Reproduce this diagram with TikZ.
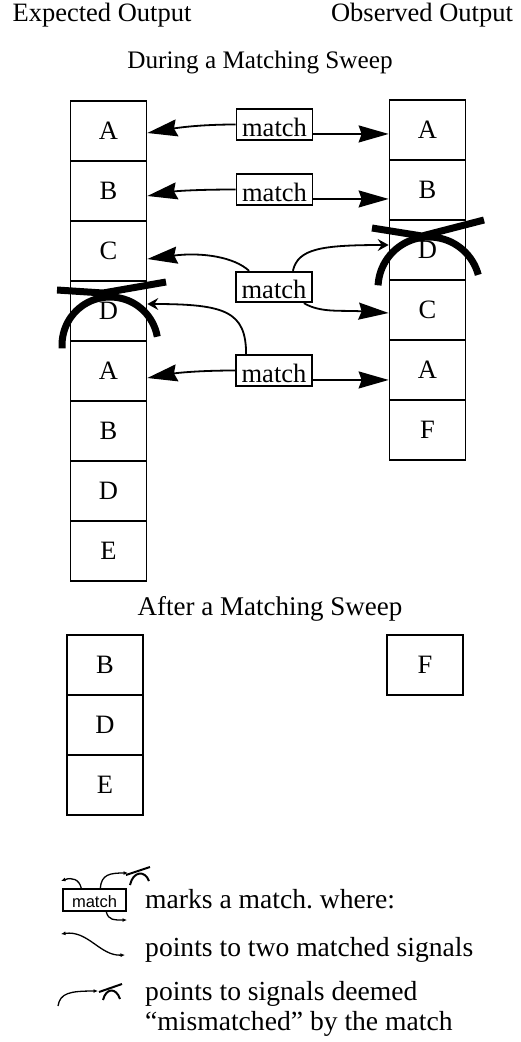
\documentclass[tikz,border=0pt]{standalone}
\usepackage{fontspec}
\setmainfont{Liberation Serif}
\newfontfamily\tagfont{Liberation Sans}
\usetikzlibrary{arrows.meta}
\frenchspacing

\begin{document}
\begin{tikzpicture}[x=1pt,y=-1pt,
  txt/.style={font=\fontsize{26.5}{31}\selectfont, inner sep=0pt},
  legendtxt/.style={font=\fontsize{27.6}{31}\selectfont, inner sep=0pt},
  cell/.style={draw, line width=1.7pt, minimum width=76pt, minimum height=60pt,
    inner sep=0pt, font=\fontsize{26.5}{31}\selectfont},
  matchbox/.style={draw, line width=1.8pt, minimum width=76pt, inner xsep=0pt,
    inner ysep=0pt, text height=27pt, text depth=3.5pt,
    font=\fontsize{26.5}{31}\selectfont},
  pair/.style={line width=1.8pt, -{Stealth[length=30pt,width=17pt,inset=3pt]}},
  miss/.style={line width=1.8pt, -{Stealth[length=11pt,width=12pt,inset=4pt]}},
  strike/.style={line width=7pt, line cap=butt},
  tinytip/.tip={Latex[length=4.5pt,width=4pt]},
  tinyline/.style={line width=1.3pt},
  ministrike/.style={line width=2pt, line cap=butt}
]
\fill[white] (0,0) rectangle (520,1042);
\useasboundingbox (0,0) rectangle (520,1042);

% headings
\node[txt, anchor=base] (hexp) at (102,21.5) {Expected Output};
\node[txt, anchor=base] (hobs) at (422,21.5) {Observed Output};
\node[txt, anchor=base, font=\fontsize{25.2}{30}\selectfont] (hdur) at (260,68) {During a Matching Sweep};
\node[txt, anchor=base, font=\fontsize{27}{31}\selectfont] (haft) at (270,615) {After a Matching Sweep};

% signal columns during the sweep
\foreach \t [count=\i] in {A,B,C,D,A,B,D,E}
  \node[cell] (L\i) at (108.5,{71+60*\i}) {\t};
\foreach \t [count=\i] in {A,B,D,C,A,F}
  \node[cell] (R\i) at (427.5,{70+60*\i}) {\t};

% signal columns after the sweep
\foreach \t [count=\i] in {B,D,E}
  \node[cell] (P\i) at (105,{605+60*\i}) {\t};
\node[cell] (Q1) at (425,665) {F};

% mismatch marks
\draw[strike] (57,290) -- (103,293) -- (166,282);
\draw[strike] plot[domain=176:350, samples=40] ({110+48*cos(\x)},{345+48*sin(\x)});
\draw[strike] (372,228) -- (422,236) -- (484,220);
\draw[strike] plot[domain=183:345, samples=40] ({429+51*cos(\x)},{288+51*sin(\x)});

% matches
\node[matchbox, fill=white] (M1) at (274.5,124.5) {match};
\node[matchbox, fill=white] (M2) at (274.5,189.5) {match};
\node[matchbox, fill=white] (M3) at (274,287) {match};
\node[matchbox, fill=white] (M4) at (274,370.5) {match};

\draw[pair] (M1.west) .. controls +(-37,0) and +(29,-5) .. ([yshift=-2pt]L1.east);
\draw[pair] (M1.mid east) -- (M1.mid east -| R1.west);
\draw[pair] (M2.west) .. controls +(-37,0) and +(29,-5) .. ([yshift=-5pt]L2.east);
\draw[pair] (M2.mid east) -- (M2.mid east -| R2.west);

\draw[pair] ([xshift=14pt]M3.north west) .. controls +(-15,-14) and +(54,-7) .. ([yshift=-8pt]L3.east);
\draw[miss] ([xshift=-20pt]M3.north east) .. controls +(5,-22) and +(-68,0) .. ([yshift=5pt]R3.west);
\draw[pair] ([xshift=-9pt]M3.south east) .. controls +(17,10) and +(-48,-3) .. ([yshift=-3pt]R4.west);

\draw[pair] (M4.west) .. controls +(-37,0) and +(29,-5) .. ([yshift=-7pt]L5.east);
\draw[pair] (M4.mid east) -- (M4.mid east -| R5.west);
\draw[miss] ([xshift=11pt]M4.north west) .. controls +(0,-43) and +(78,0) .. ([yshift=7pt]L4.east);

% legend
\node[draw, line width=1.4pt, minimum width=63pt, inner xsep=0pt, inner ysep=0pt,
  text height=18pt, text depth=4pt, font=\tagfont\fontsize{16.5}{18}\selectfont]
  (LM) at (94.5,900) {match};
\coordinate (la) at (61,881);
\coordinate (lb) at (128,873);
\coordinate (lc) at (127,920);
\draw[tinyline, -tinytip] ([xshift=19pt]LM.north west) .. controls +(-2,-9) and +(11,-4) .. (la);
\draw[tinyline, -tinytip] ([xshift=38pt]LM.north west) .. controls +(1,-14) and +(-18,0) .. (lb);
\draw[ministrike] (126,875) -- (150,867);
\draw[ministrike] (130,885) .. controls (133,871) and (145,870) .. (149,881);
\draw[tinyline, -tinytip] ([xshift=44pt]LM.south west) .. controls +(2,9) and +(-12,0) .. (lc);

\coordinate (ld1) at (61,934);
\coordinate (ld2) at (125,955);
\draw[tinyline, tinytip-tinytip] (ld1) .. controls (88,930) and (100,956) .. (ld2);

\coordinate (le1) at (58,1006);
\coordinate (le2) at (98,991);
\draw[tinyline, -tinytip] (le1) .. controls (60,993) and (70,991) .. (le2);
\draw[ministrike] (99,992) -- (122,984);
\draw[ministrike] (103,1000) .. controls (106,988) and (116,987) .. (120,999);

\node[legendtxt, anchor=base west] (g1) at (145,908) {marks a match. where:};
\node[legendtxt, anchor=base west] (g2) at (145,956) {points to two matched signals};
\node[legendtxt, anchor=base west] (g3) at (145,1000) {points to signals deemed};
\node[legendtxt, anchor=base west] (g4) at (145,1030) {“mismatched” by the match};
\end{tikzpicture}
\end{document}
